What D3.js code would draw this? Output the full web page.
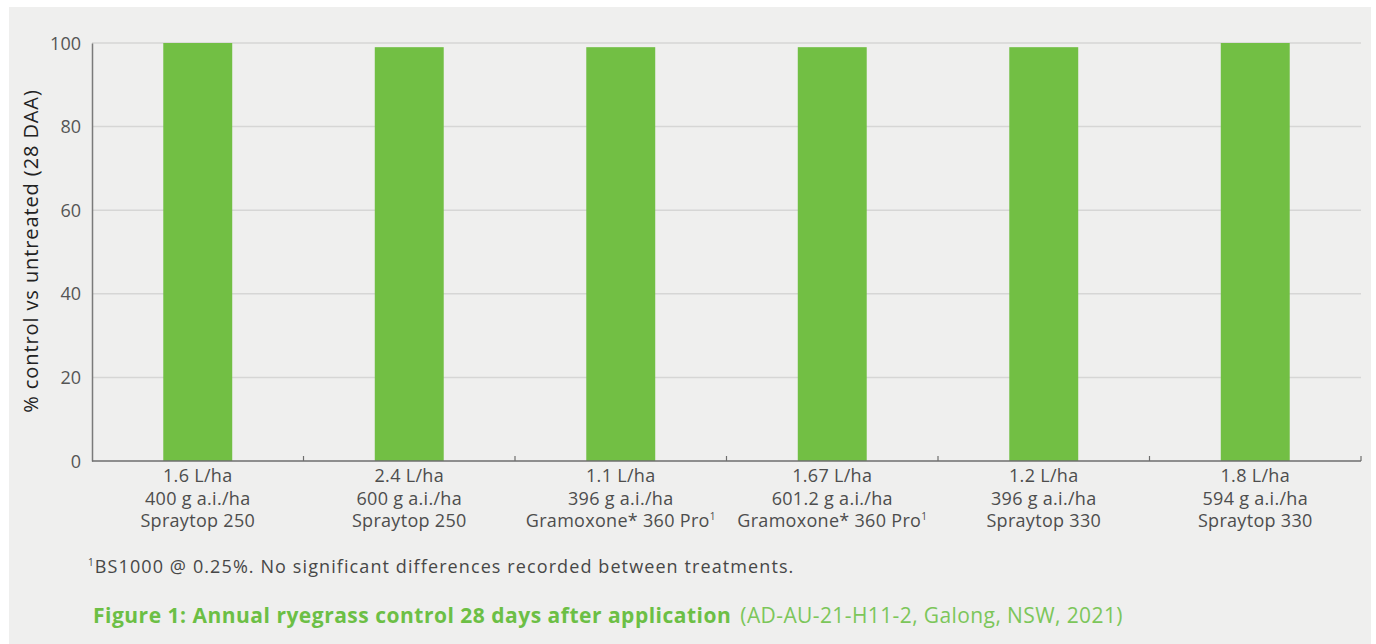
<!DOCTYPE html>
<html><head><meta charset="utf-8">
<script src="https://cdn.jsdelivr.net/npm/d3@7"></script>
<style>
html,body{margin:0;padding:0;background:#fff;}
svg{display:block;}
</style></head>
<body>
<script>
const categories = [
  ["1.6 L/ha","400 g a.i./ha","Spraytop 250"],
  ["2.4 L/ha","600 g a.i./ha","Spraytop 250"],
  ["1.1 L/ha","396 g a.i./ha","Gramoxone* 360 Pro¹"],
  ["1.67 L/ha","601.2 g a.i./ha","Gramoxone* 360 Pro¹"],
  ["1.2 L/ha","396 g a.i./ha","Spraytop 330"],
  ["1.8 L/ha","594 g a.i./ha","Spraytop 330"]
];
const values = [100, 99, 99, 99, 99, 100];
const yTicks = [0, 20, 40, 60, 80, 100];
const yTitle = "% control vs untreated (28 DAA)";
const footnote = "BS1000 @ 0.25%. No significant differences recorded between treatments.";
const figTitleBold = "Figure 1: Annual ryegrass control 28 days after application";
const figTitleLight = "(AD-AU-21-H11-2, Galong, NSW, 2021)";

(function(){
const W = 1376, H = 644;
const font = "'Open Sans', sans-serif";
const svg = d3.select("body").append("svg").attr("width", W).attr("height", H);
svg.append("rect").attr("x", 9).attr("y", 7).attr("width", 1362).attr("height", H - 7).attr("fill", "#efefee");

const pL = 92, pR = 1361, pT = 43, pB = 461;
const x = d3.scaleBand().domain(d3.range(categories.length)).range([pL, pR]).paddingInner(0.674).paddingOuter(0.337);
const y = d3.scaleLinear().domain([0, 100]).range([pB, pT]);

svg.append("g").selectAll("line").data(yTicks.filter(d => d > 0)).join("line")
  .attr("x1", pL).attr("x2", pR).attr("y1", d => y(d)).attr("y2", d => y(d))
  .attr("stroke", "#d6d6d5").attr("stroke-width", 1.5);

svg.append("g").selectAll("rect").data(values).join("rect")
  .attr("x", (d, i) => x(i)).attr("width", x.bandwidth())
  .attr("y", d => y(d)).attr("height", d => y(0) - y(d))
  .attr("fill", "#72bf44");

const yAxis = svg.append("g").attr("transform", `translate(${pL},0)`)
  .call(d3.axisLeft(y).tickValues(yTicks).tickSize(0).tickPadding(11));
yAxis.select(".domain").attr("stroke", "#7a7a7a").attr("stroke-width", 1.5);
yAxis.selectAll("text").attr("font-family", font).attr("font-size", 18).attr("fill", "#555").attr("dy", "0.34em");

const band = x.step();
const xb = svg.append("g");
xb.append("line").attr("x1", pL).attr("x2", pR).attr("y1", pB).attr("y2", pB).attr("stroke", "#6e6e6e").attr("stroke-width", 1.5);
xb.selectAll("line.tick").data(d3.range(1, categories.length + 1)).join("line").attr("class", "tick")
  .attr("x1", i => pL + i * band).attr("x2", i => pL + i * band)
  .attr("y1", pB).attr("y2", pB - 5).attr("stroke", "#6e6e6e").attr("stroke-width", 1.2);

const lab = svg.append("g").selectAll("text").data(categories).join("text")
  .attr("x", (d, i) => x(i) + x.bandwidth() / 2).attr("y", 482)
  .attr("text-anchor", "middle").attr("font-family", font).attr("font-size", 18)
  .attr("letter-spacing", 0.3).attr("fill", "#4d4d4d");
lab.each(function(d) {
  const t = d3.select(this);
  d.forEach((line, k) => {
    const ts = t.append("tspan").attr("x", t.attr("x")).attr("dy", k === 0 ? 0 : 22.5);
    if (line.endsWith("¹")) {
      ts.text(line.slice(0, -1));
      t.append("tspan").attr("font-size", 10).attr("baseline-shift", "super").text("1");
    } else ts.text(line);
  });
});

svg.append("text").attr("transform", `translate(38,251) rotate(-90)`)
  .attr("text-anchor", "middle").attr("font-family", font).attr("font-size", 20)
  .attr("letter-spacing", 0.9).attr("fill", "#222").text(yTitle);

const fn = svg.append("text").attr("x", 88).attr("y", 573).attr("font-family", font).attr("font-size", 18)
  .attr("letter-spacing", 1.1).attr("fill", "#474747");
fn.append("tspan").attr("font-size", 10).attr("dy", -7).text("1");
fn.append("tspan").attr("dy", 7).text(footnote);

const ft = svg.append("text").attr("x", 93).attr("y", 623).attr("font-family", font).attr("font-size", 21).attr("fill", "#6cbf45");
ft.append("tspan").attr("font-weight", "bold").attr("letter-spacing", 0.5).text(figTitleBold);
ft.append("tspan").attr("dx", 9).attr("font-weight", "normal").attr("letter-spacing", 0.4).attr("fill", "#7cc65a").text(figTitleLight);
})();
</script>
</body></html>
